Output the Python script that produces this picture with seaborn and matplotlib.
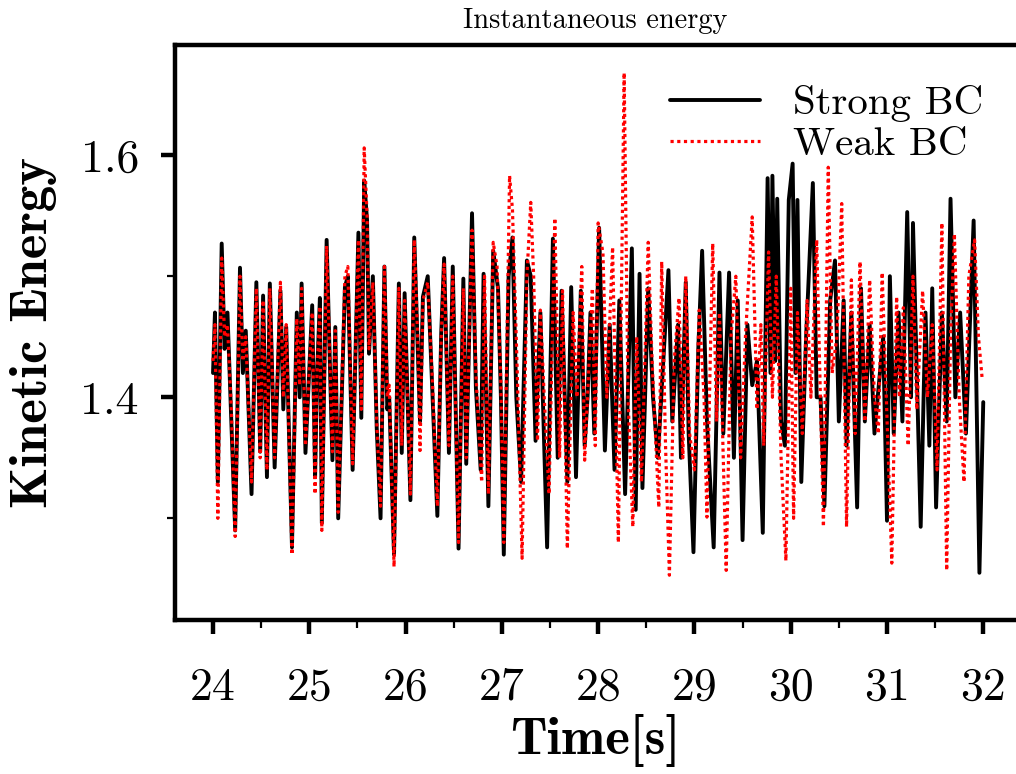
import matplotlib
matplotlib.use("Agg")
import matplotlib.pyplot as plt
import seaborn as sns
import pandas as pd
from matplotlib.ticker import MultipleLocator

# ---- data ----
strong_t = [24.00, 24.02, 24.05, 24.09, 24.12, 24.15, 24.19, 24.23, 24.28, 24.31, 24.34, 24.40, 24.45, 24.49,
            24.52, 24.56, 24.59, 24.64, 24.70, 24.73, 24.76, 24.82, 24.87, 24.90, 24.92, 24.96, 25.03, 25.06,
            25.08, 25.11, 25.13, 25.18, 25.24, 25.27, 25.30, 25.37, 25.40, 25.45, 25.51, 25.54, 25.57, 25.60,
            25.62, 25.66, 25.70, 25.74, 25.78, 25.81, 25.83, 25.88, 25.93, 25.96, 25.99, 26.05, 26.09, 26.13,
            26.15, 26.18, 26.23, 26.28, 26.33, 26.37, 26.40, 26.45, 26.49, 26.55, 26.60, 26.63, 26.69, 26.73,
            26.78, 26.81, 26.86, 26.91, 26.96, 26.99, 27.02, 27.07, 27.11, 27.15, 27.20, 27.26, 27.30, 27.35,
            27.40, 27.47, 27.53, 27.58, 27.62, 27.68, 27.72, 27.77, 27.82, 27.86, 27.89, 27.92, 27.96, 28.01,
            28.07, 28.12, 28.17, 28.22, 28.28, 28.35, 28.39, 28.43, 28.46, 28.52, 28.57, 28.62, 28.73, 28.77,
            28.83, 28.86, 28.91, 28.94, 28.99, 29.04, 29.08, 29.13, 29.20, 29.26, 29.30, 29.36, 29.41, 29.45,
            29.50, 29.55, 29.60, 29.65, 29.71, 29.76, 29.79, 29.81, 29.84, 29.86, 29.90, 29.94, 29.98, 30.02,
            30.05, 30.07, 30.11, 30.16, 30.23, 30.27, 30.31, 30.35, 30.41, 30.46, 30.50, 30.55, 30.58, 30.63,
            30.69, 30.73, 30.77, 30.82, 30.87, 30.96, 31.00, 31.03, 31.07, 31.12, 31.16, 31.21, 31.25, 31.27,
            31.35, 31.40, 31.44, 31.47, 31.51, 31.57, 31.62, 31.66, 31.71, 31.76, 31.82, 31.90, 31.93, 31.96,
            32.00]
strong_e = [1.42, 1.47, 1.33, 1.527, 1.44, 1.47, 1.38, 1.29, 1.507, 1.42, 1.455, 1.32, 1.495, 1.355,
            1.484, 1.334, 1.494, 1.342, 1.488, 1.39, 1.458, 1.276, 1.47, 1.40, 1.494, 1.354, 1.476, 1.334,
            1.417, 1.482, 1.296, 1.53, 1.348, 1.458, 1.30, 1.491, 1.50, 1.34, 1.536, 1.383, 1.579, 1.546,
            1.436, 1.50, 1.375, 1.30, 1.508, 1.39, 1.40, 1.27, 1.494, 1.354, 1.486, 1.315, 1.532, 1.43,
            1.38, 1.483, 1.50, 1.40, 1.302, 1.453, 1.515, 1.354, 1.508, 1.275, 1.498, 1.345, 1.552, 1.408,
            1.34, 1.502, 1.31, 1.521, 1.49, 1.40, 1.27, 1.50, 1.532, 1.40, 1.33, 1.513, 1.50, 1.364,
            1.47, 1.276, 1.531, 1.35, 1.488, 1.33, 1.491, 1.334, 1.488, 1.36, 1.40, 1.47, 1.37, 1.54,
            1.356, 1.46, 1.34, 1.48, 1.32, 1.523, 1.307, 1.502, 1.325, 1.49, 1.40, 1.35, 1.505, 1.38,
            1.46, 1.35, 1.495, 1.37, 1.272, 1.44, 1.521, 1.38, 1.276, 1.503, 1.37, 1.503, 1.35, 1.48,
            1.282, 1.46, 1.41, 1.43, 1.288, 1.581, 1.42, 1.583, 1.43, 1.564, 1.38, 1.36, 1.563, 1.593,
            1.42, 1.563, 1.33, 1.45, 1.577, 1.40, 1.40, 1.31, 1.48, 1.513, 1.38, 1.48, 1.36, 1.47,
            1.309, 1.49, 1.38, 1.46, 1.37, 1.45, 1.298, 1.50, 1.37, 1.47, 1.38, 1.553, 1.40, 1.544,
            1.293, 1.47, 1.36, 1.49, 1.309, 1.47, 1.38, 1.564, 1.40, 1.47, 1.37, 1.546, 1.40, 1.255,
            1.396]

weak_t = [24.00, 24.02, 24.05, 24.09, 24.12, 24.15, 24.19, 24.23, 24.28, 24.31, 24.34, 24.40, 24.45, 24.49,
          24.52, 24.56, 24.59, 24.64, 24.70, 24.73, 24.76, 24.82, 24.87, 24.90, 24.92, 24.96, 25.03, 25.06,
          25.08, 25.11, 25.13, 25.18, 25.24, 25.27, 25.30, 25.37, 25.40, 25.45, 25.51, 25.54, 25.57, 25.60,
          25.62, 25.66, 25.70, 25.74, 25.78, 25.81, 25.83, 25.88, 25.93, 25.96, 25.99, 26.05, 26.09, 26.13,
          26.15, 26.18, 26.23, 26.28, 26.33, 26.37, 26.40, 26.45, 26.49, 26.55, 26.60, 26.63, 26.69, 26.73,
          26.79, 26.82, 26.86, 26.91, 26.95, 26.99, 27.02, 27.08, 27.11, 27.16, 27.21, 27.26, 27.30, 27.33,
          27.37, 27.40, 27.44, 27.49, 27.55, 27.60, 27.63, 27.68, 27.74, 27.78, 27.83, 27.86, 27.90, 27.94,
          27.97, 28.00, 28.05, 28.09, 28.15, 28.21, 28.27, 28.31, 28.36, 28.40, 28.45, 28.52, 28.56, 28.63,
          28.66, 28.70, 28.74, 28.79, 28.84, 28.88, 28.91, 28.95, 29.00, 29.05, 29.10, 29.13, 29.19, 29.23,
          29.26, 29.33, 29.38, 29.43, 29.48, 29.53, 29.60, 29.65, 29.69, 29.72, 29.77, 29.81, 29.85, 29.90,
          29.95, 30.00, 30.03, 30.07, 30.12, 30.17, 30.21, 30.27, 30.34, 30.39, 30.43, 30.48, 30.53, 30.58,
          30.63, 30.67, 30.72, 30.77, 30.82, 30.87, 30.91, 30.95, 31.05, 31.10, 31.13, 31.17, 31.22, 31.27,
          31.31, 31.37, 31.42, 31.47, 31.52, 31.57, 31.62, 31.66, 31.70, 31.75, 31.80, 31.85, 31.91, 31.95,
          31.99]
weak_e = [1.43, 1.46, 1.30, 1.515, 1.45, 1.46, 1.39, 1.285, 1.50, 1.43, 1.45, 1.33, 1.49, 1.35,
          1.48, 1.34, 1.49, 1.35, 1.495, 1.40, 1.46, 1.27, 1.465, 1.41, 1.49, 1.36, 1.47, 1.32,
          1.42, 1.475, 1.29, 1.525, 1.355, 1.455, 1.305, 1.50, 1.508, 1.345, 1.53, 1.39, 1.606, 1.55,
          1.44, 1.495, 1.38, 1.31, 1.508, 1.40, 1.41, 1.26, 1.49, 1.36, 1.48, 1.32, 1.53, 1.44,
          1.356, 1.48, 1.495, 1.41, 1.31, 1.45, 1.51, 1.36, 1.50, 1.28, 1.49, 1.35, 1.538, 1.42,
          1.33, 1.50, 1.32, 1.528, 1.508, 1.41, 1.28, 1.583, 1.555, 1.42, 1.267, 1.50, 1.561, 1.50,
          1.364, 1.472, 1.40, 1.32, 1.548, 1.35, 1.488, 1.275, 1.47, 1.40, 1.508, 1.348, 1.42, 1.49,
          1.36, 1.544, 1.519, 1.40, 1.524, 1.28, 1.668, 1.40, 1.293, 1.45, 1.33, 1.528, 1.43, 1.309,
          1.512, 1.36, 1.253, 1.43, 1.482, 1.35, 1.50, 1.37, 1.34, 1.472, 1.40, 1.301, 1.527, 1.38,
          1.47, 1.257, 1.45, 1.50, 1.35, 1.45, 1.549, 1.39, 1.46, 1.36, 1.52, 1.40, 1.50, 1.35,
          1.265, 1.49, 1.30, 1.47, 1.37, 1.48, 1.40, 1.53, 1.293, 1.59, 1.42, 1.45, 1.56, 1.293,
          1.497, 1.37, 1.512, 1.38, 1.497, 1.40, 1.37, 1.503, 1.263, 1.483, 1.40, 1.474, 1.36, 1.50,
          1.39, 1.488, 1.40, 1.46, 1.34, 1.544, 1.257, 1.45, 1.535, 1.40, 1.33, 1.50, 1.53, 1.45,
          1.414]

series_labels = ["Strong BC", "Weak BC"]
x_ticks = [24, 25, 26, 27, 28, 29, 30, 31, 32]
y_ticks = [1.4, 1.6]
title_text = "Instantaneous energy"
x_label = "Time[s]"
y_label = "Kinetic Energy"

# ---- style ----
sns.set_style("ticks")
plt.rcParams["font.family"] = ["cmr10", "DejaVu Serif"]
plt.rcParams["axes.unicode_minus"] = False
plt.rcParams["axes.formatter.use_mathtext"] = False
plt.rcParams["text.color"] = "black"
plt.rcParams["axes.labelcolor"] = "black"
plt.rcParams["xtick.color"] = "black"
plt.rcParams["ytick.color"] = "black"

fig = plt.figure(figsize=(10.16, 7.74), dpi=100)
ax = fig.add_axes([175 / 1016, 1 - 620 / 774, 1 - 175 / 1016, (620 - 45) / 774])

df_s = pd.DataFrame({"t": strong_t, "e": strong_e})
df_w = pd.DataFrame({"t": weak_t, "e": weak_e})

sns.lineplot(data=df_s, x="t", y="e", ax=ax, color="black", linewidth=2.8,
             label=series_labels[0], estimator=None, sort=False)
sns.lineplot(data=df_w, x="t", y="e", ax=ax, color="red", linewidth=2.3,
             linestyle=(0, (1, 1.1)), label=series_labels[1], estimator=None, sort=False)

ax.set_xlim(23.605, 32.34)
ax.set_ylim(1.216, 1.691)

ax.set_xticks(x_ticks)
ax.set_xticklabels([str(v) for v in x_ticks])
ax.xaxis.set_minor_locator(MultipleLocator(0.5))
ax.set_yticks(y_ticks)
ax.set_yticklabels([f"{v:.1f}" for v in y_ticks])
ax.yaxis.set_minor_locator(MultipleLocator(0.1))

ax.tick_params(axis="both", which="major", direction="out", length=10, width=3.2,
               labelsize=33, colors="black")
ax.tick_params(axis="x", which="major", pad=24)
ax.tick_params(axis="y", which="major", pad=16)
ax.tick_params(axis="both", which="minor", direction="out", length=6, width=1.6)

for side in ["left", "bottom", "top"]:
    ax.spines[side].set_linewidth(3.2)
    ax.spines[side].set_color("black")
ax.spines["right"].set_visible(False)

ax.set_title(title_text, fontsize=20.5, pad=12, color="black")
ax.set_xlabel(x_label, fontsize=38, family=["cmb10", "DejaVu Serif"], labelpad=4, color="black")
ax.set_ylabel(y_label, fontsize=38, family=["cmb10", "DejaVu Serif"], labelpad=17, color="black")

leg = ax.legend(loc="upper right", frameon=False, fontsize=29.5, handlelength=2.2,
                handletextpad=0.8, labelspacing=0.1, borderaxespad=0.3,
                bbox_to_anchor=(0.995, 0.98))
for txt in leg.get_texts():
    txt.set_color("black")

fig.savefig("out.png", dpi=100)
